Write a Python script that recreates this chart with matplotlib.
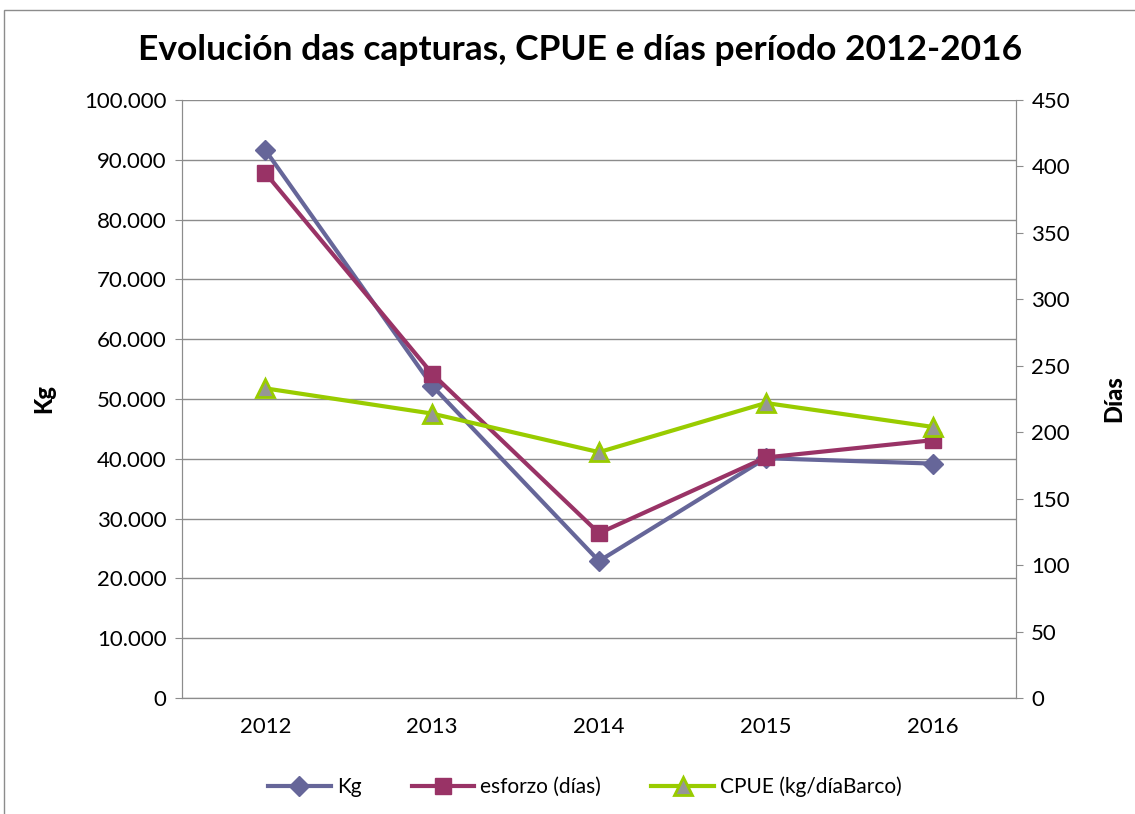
import matplotlib.pyplot as plt
from matplotlib.ticker import FuncFormatter
from matplotlib.patches import Rectangle

years = ["2012", "2013", "2014", "2015", "2016"]
kg = [91600, 52200, 22900, 40100, 39200]
esforzo = [395, 244, 124, 181, 194]
cpue = [233, 214, 185, 222, 204]

plt.rcParams['font.family'] = ['Lato', 'DejaVu Sans']

fig = plt.figure(figsize=(11.35, 8.14), dpi=100)
ax = fig.add_axes([182 / 1135, 1 - 698 / 814, (1016 - 182) / 1135, 598 / 814])
ax2 = ax.twinx()

x = range(len(years))
grid_c = '#8c8c8c'

ax.set_ylim(0, 100000)
ax.set_yticks(range(0, 100001, 10000))
ax.yaxis.set_major_formatter(FuncFormatter(lambda v, p: f"{int(v):,}".replace(",", ".")))
ax.grid(axis='y', color=grid_c, lw=1)
ax.set_axisbelow(True)
ax.set_xlim(-0.5, 4.5)
ax.set_xticks(list(x))
ax.set_xticklabels(years)

ax2.set_ylim(0, 450)
ax2.set_yticks(range(0, 451, 50))

for a in (ax, ax2):
    a.spines['top'].set_visible(False)
    for s in ('left', 'right', 'bottom'):
        a.spines[s].set_color(grid_c)
    a.tick_params(labelsize=16, color=grid_c, length=5, pad=6)
ax.tick_params(axis='x', length=0, pad=14)

l1, = ax.plot(x, kg, color='#666699', lw=3, marker='D', ms=10, mfc='#666699', mec='#666699', label='Kg', zorder=3)
l2, = ax2.plot(x, esforzo, color='#993366', lw=3, marker='s', ms=12, mfc='#993366', mec='#993366', label='esforzo (días)', zorder=3)
l3, = ax2.plot(x, cpue, color='#99cc00', lw=3, marker='^', ms=13, mfc='#969696', mec='#99cc00', mew=2, label='CPUE (kg/díaBarco)', zorder=4)

ax.set_ylabel('Kg', fontsize=17, fontweight='black')
ax2.set_ylabel('Días', fontsize=17, fontweight='black')
ax.yaxis.set_label_coords(-0.152, 0.5)
ax2.yaxis.set_label_coords(1.103, 0.5)

fig.text(580 / 1135, 1 - 50 / 814, 'Evolución das capturas, CPUE e días período 2012-2016',
         ha='center', va='center', fontsize=25.5, fontweight='bold')

fig.legend(handles=[l1, l2, l3], loc='center', bbox_to_anchor=(585 / 1135, 1 - 787 / 814),
           ncol=3, frameon=False, fontsize=15, handlelength=3, columnspacing=2.4, handletextpad=0.3)

fig.patches.append(Rectangle((4 / 1135, -0.01), 1.1, 1 - 10 / 814 + 0.01, transform=fig.transFigure,
                             fill=False, edgecolor='#8c8c8c', lw=1))

fig.savefig('out.png', dpi=100)
